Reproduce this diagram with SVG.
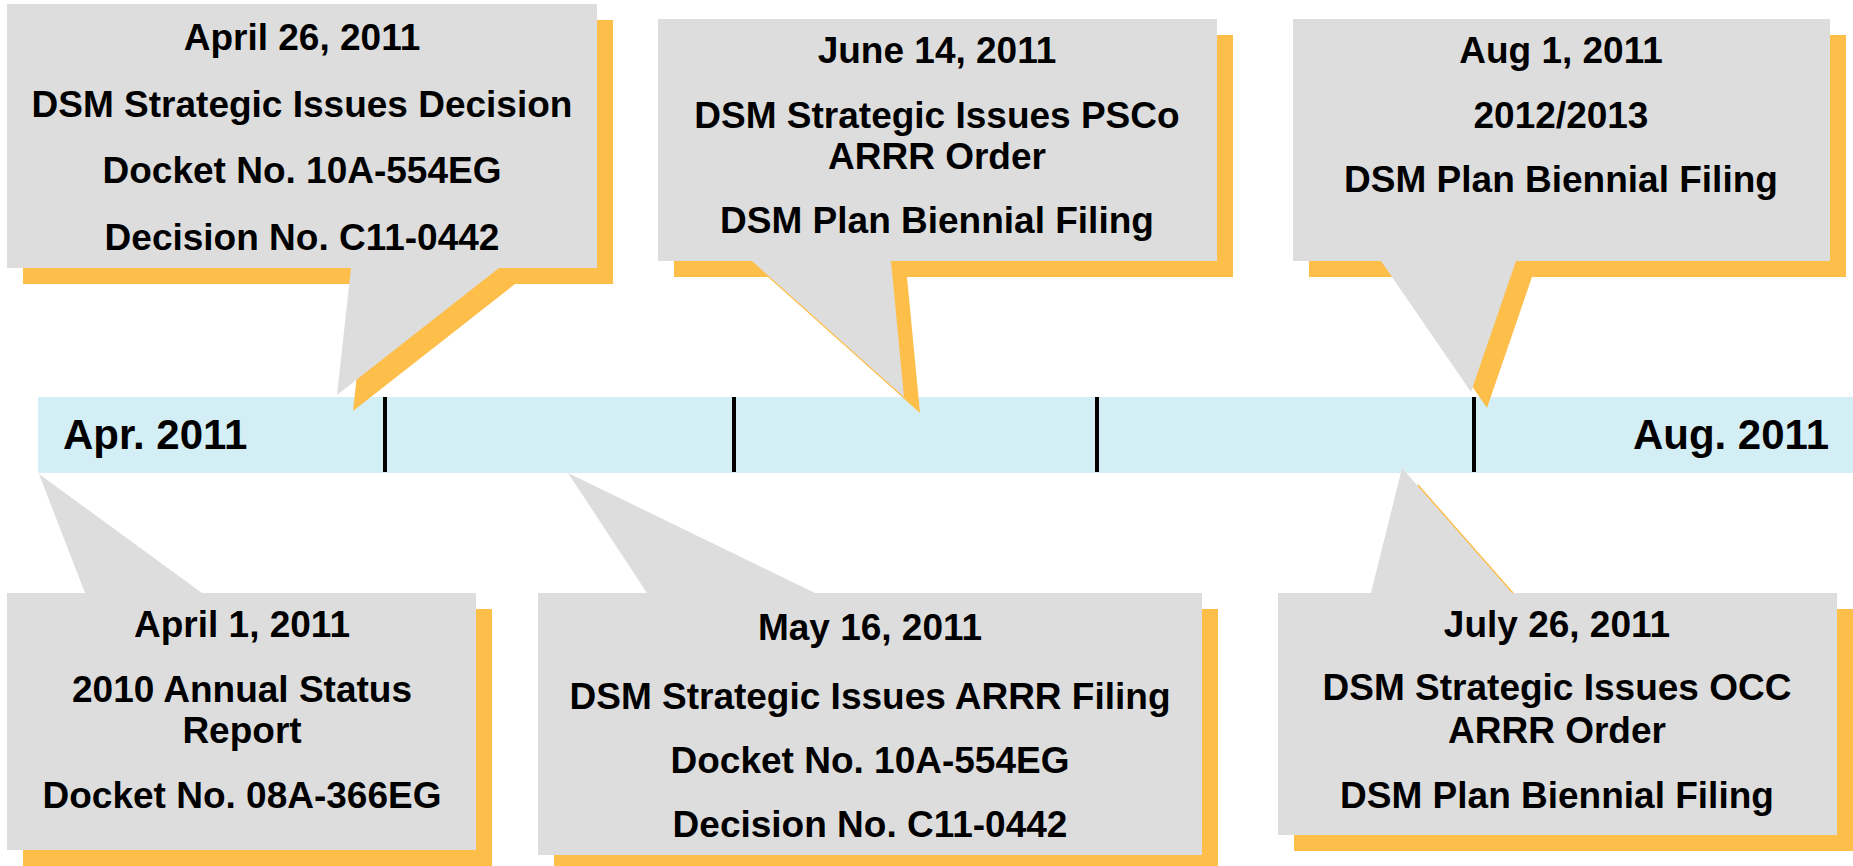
<svg xmlns="http://www.w3.org/2000/svg" width="1853" height="866" viewBox="0 0 1853 866">
<style>
.bg{fill:#ffffff}
.bar{fill:#D3EEF5}
.tick{stroke:#000;stroke-width:4}
.box{fill:#DDDDDD}
.shadow{fill:#FDBE4A}
.t{font-family:"Liberation Sans",Arial,sans-serif;font-weight:bold;font-size:37px;fill:#000;text-anchor:middle}
.axis{font-family:"Liberation Sans",Arial,sans-serif;font-weight:bold;font-size:42px;fill:#000}
</style>
<rect class="bg" x="0" y="0" width="1853" height="866"/>
<g id="timeline">
<rect class="bar" x="38" y="397" width="1815" height="76"/>
<text class="axis" x="63" y="449">Apr. 2011</text>
<text class="axis" x="1829" y="449" text-anchor="end">Aug. 2011</text>
</g>
<g id="connectors">
<line class="tick" x1="385" y1="397" x2="385" y2="472"/>
<line class="tick" x1="734" y1="397" x2="734" y2="472"/>
<line class="tick" x1="1097" y1="397" x2="1097" y2="472"/>
<line class="tick" x1="1474" y1="397" x2="1474" y2="472"/>
</g>
<g id="callout-apr26">
<path class="shadow" transform="translate(16,16)" d="M7,4 H597 V268 H499 L337,395 L351,268 H7 Z"/>
<path class="box" d="M7,4 H597 V268 H499 L337,395 L351,268 H7 Z"/>
<text class="t" x="302" y="50">April 26, 2011</text>
<text class="t" x="302" y="117">DSM Strategic Issues Decision</text>
<text class="t" x="302" y="183">Docket No. 10A-554EG</text>
<text class="t" x="302" y="250">Decision No. C11-0442</text>
</g>
<g id="callout-jun14">
<path class="shadow" transform="translate(16,16)" d="M658,19 H1217 V261 H891 L904,397 L752,261 H658 Z"/>
<path class="box" d="M658,19 H1217 V261 H891 L904,397 L752,261 H658 Z"/>
<text class="t" x="937" y="63">June 14, 2011</text>
<text class="t" x="937" y="128">DSM Strategic Issues PSCo</text>
<text class="t" x="937" y="169">ARRR Order</text>
<text class="t" x="937" y="233">DSM Plan Biennial Filing</text>
</g>
<g id="callout-aug1">
<path class="shadow" transform="translate(16,16)" d="M1293,19 H1830 V261 H1516 L1471,392 L1381,261 H1293 Z"/>
<path class="box" d="M1293,19 H1830 V261 H1516 L1471,392 L1381,261 H1293 Z"/>
<text class="t" x="1561" y="63">Aug 1, 2011</text>
<text class="t" x="1561" y="128">2012/2013</text>
<text class="t" x="1561" y="192">DSM Plan Biennial Filing</text>
</g>
<g id="callout-apr1">
<path class="shadow" transform="translate(16,16)" d="M7,593 H85 L39,474 L202,593 H476 V850 H7 Z"/>
<path class="box" d="M7,593 H85 L39,474 L202,593 H476 V850 H7 Z"/>
<text class="t" x="242" y="637">April 1, 2011</text>
<text class="t" x="242" y="702">2010 Annual Status</text>
<text class="t" x="242" y="743">Report</text>
<text class="t" x="242" y="808">Docket No. 08A-366EG</text>
</g>
<g id="callout-may16">
<path class="shadow" transform="translate(16,16)" d="M538,593 H647 L568,473 L815,593 H1202 V855 H538 Z"/>
<path class="box" d="M538,593 H647 L568,473 L815,593 H1202 V855 H538 Z"/>
<text class="t" x="870" y="640">May 16, 2011</text>
<text class="t" x="870" y="709">DSM Strategic Issues ARRR Filing</text>
<text class="t" x="870" y="773">Docket No. 10A-554EG</text>
<text class="t" x="870" y="837">Decision No. C11-0442</text>
</g>
<g id="callout-jul26">
<path class="shadow" transform="translate(16,16)" d="M1278,593 H1371 L1402,468 L1512,593 H1837 V835 H1278 Z"/>
<path class="box" d="M1278,593 H1371 L1402,468 L1512,593 H1837 V835 H1278 Z"/>
<text class="t" x="1557" y="637">July 26, 2011</text>
<text class="t" x="1557" y="700">DSM Strategic Issues OCC</text>
<text class="t" x="1557" y="743">ARRR Order</text>
<text class="t" x="1557" y="808">DSM Plan Biennial Filing</text>
</g>
</svg>
